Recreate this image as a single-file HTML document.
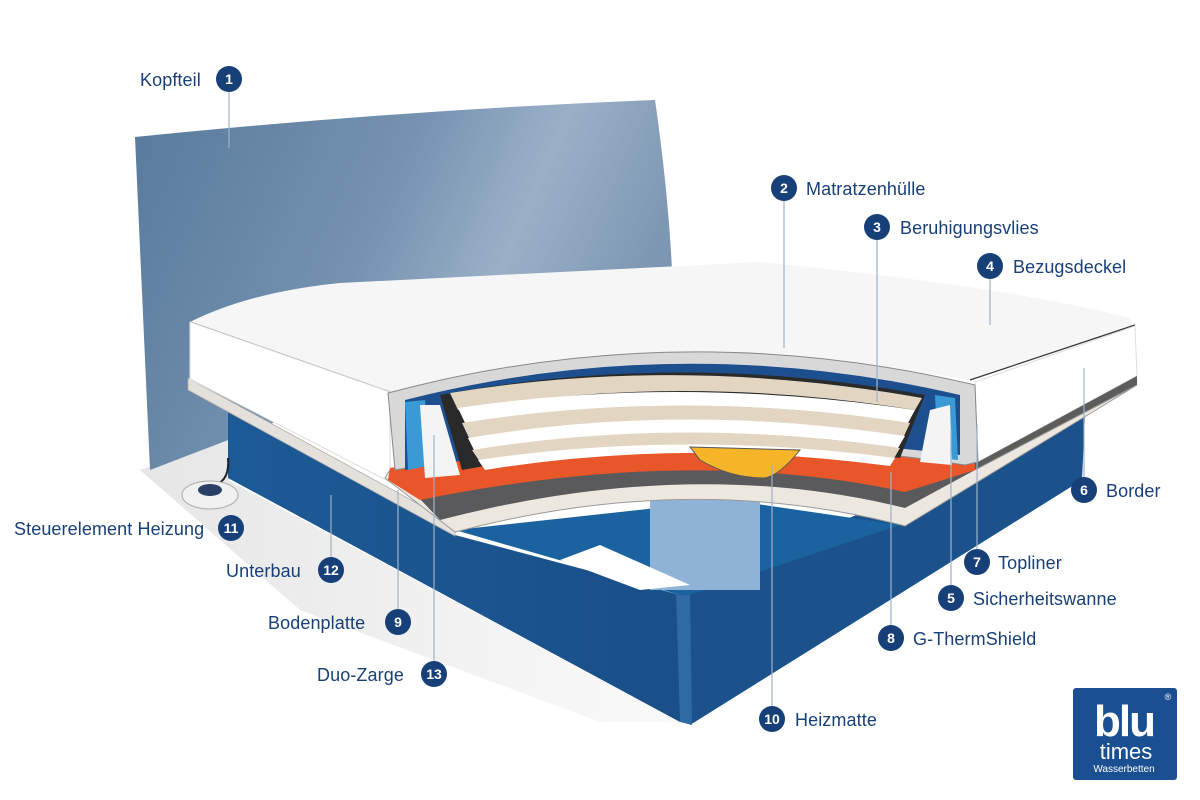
<!DOCTYPE html>
<html><head><meta charset="utf-8"><style>
html,body{margin:0;padding:0;background:#fff}
svg{display:block}
text{font-family:"Liberation Sans",sans-serif}
.lb{fill:#173f78;font-size:18px;letter-spacing:0.1px}
.cn{fill:#fff;font-size:14px;text-anchor:middle;font-weight:bold}
.ld{stroke:#9fb2c8;stroke-width:1.2;fill:none}
</style></head><body>
<svg width="1200" height="800" viewBox="0 0 1200 800" xmlns="http://www.w3.org/2000/svg">
<defs>
<linearGradient id="hb" x1="0" y1="0" x2="1" y2="0.3">
<stop offset="0" stop-color="#587a9c"/><stop offset="0.5" stop-color="#7592b0"/><stop offset="0.75" stop-color="#9ab0c7"/><stop offset="1" stop-color="#7d97b3"/></linearGradient>
<linearGradient id="fl" x1="0" y1="0" x2="1" y2="0">
<stop offset="0" stop-color="#e6e6e6"/><stop offset="1" stop-color="#fafafa"/></linearGradient>
<linearGradient id="bl" x1="0" y1="0" x2="1" y2="0">
<stop offset="0" stop-color="#1c5a96"/><stop offset="1" stop-color="#1a4f88"/></linearGradient>
</defs>
<polygon points="140,470 228,440 228,480 680,722 600,722 300,610" fill="url(#fl)"/>
<path d="M135,137 Q400,110 655,100 Q668,190 672,270 L150,470 Z" fill="url(#hb)"/>
<polygon points="228,405 455,535 680,595 680,722 228,478" fill="url(#bl)"/>
<polygon points="680,592 1085,415 1082,480 690,725" fill="#1b528c"/>
<polygon points="676,592 690,592 692,725 680,722" fill="#2f6aa3"/>
<polygon points="455,530 730,500 900,525 690,595 680,595" fill="#1a63a0"/>
<polygon points="650,500 760,500 760,590 650,590" fill="#8fb3d6"/>
<polygon points="560,560 600,545 690,585 640,590" fill="#ffffff"/>
<polygon points="188,378 455,524 455,536 188,390" fill="#e4e1dc" stroke="#aaa" stroke-width="0.8"/>
<path d="M190,322 Q250,292 340,283 L760,262 Q1000,285 1130,318 L1135,330 L970,380 Q680,330 390,392 Z" fill="#f6f6f6"/>
<path d="M190,322 L390,392 M970,380 L1135,325" stroke="#333" stroke-width="1.2" fill="none"/>
<path d="M190,322 L390,392 L390,482 L190,379 Z" fill="#ffffff" stroke="#ddd"/>
<path d="M975,382 L1135,326 L1137,376 L978,462 Z" fill="#ffffff" stroke="#ddd"/>
<polygon points="978,462 1137,376 1137,385 905,520 905,512" fill="#5c5c5c"/>
<path d="M385,478 L455,532 Q690,470 905,526 L1137,385 L975,470 Q680,430 390,470 Z" fill="#ece8e0" stroke="#999"/>
<path d="M400,478 Q660,430 975,470 L905,508 Q690,455 440,520 Z" fill="#5a5a5c"/>
<path d="M390,468 Q660,425 975,462 L975,470 L905,492 Q690,445 420,500 L388,480 Z" fill="#e9562a"/>
<path d="M388,393 Q680,315 975,385 L978,462 L965,465 Q680,420 395,470 Z" fill="#d8d8d8" stroke="#888"/>
<path d="M405,400 Q680,330 960,395 L960,455 Q680,420 405,470 Z" fill="#1d4f8e"/>
<path d="M405,402 L425,400 L432,465 L408,470 Z" fill="#3a9ad6"/>
<path d="M935,395 L955,398 L958,460 L938,458 Z" fill="#3a9ad6"/>
<path d="M420,405 L440,405 L460,475 L425,478 Z" fill="#f4f4f4"/>
<path d="M930,410 L950,405 L952,465 L920,462 Z" fill="#f4f4f4"/>
<path d="M440,395 Q680,350 925,395 L900,458 Q680,430 462,470 Z" fill="#2a2a2a"/>
<path d="M450,393 Q680,355 922,398 L915,410 Q680,372 458,410 Z" fill="#e2d6c2"/>
<path d="M458,408 Q680,375 915,410 L908,423 Q680,388 466,425 Z" fill="#ffffff"/>
<path d="M462,423 Q680,388 910,423 L904,436 Q680,402 470,440 Z" fill="#e2d6c2"/>
<path d="M468,438 Q680,402 905,436 L898,448 Q680,416 475,452 Z" fill="#ffffff"/>
<path d="M472,450 Q680,416 900,448 L893,460 Q680,430 480,462 Z" fill="#e2d6c2"/>
<path d="M478,460 Q680,430 895,458 L890,466 Q680,438 485,470 Z" fill="#ffffff"/>
<path d="M690,447 L800,450 Q780,475 765,478 Q730,478 700,460 Z" fill="#f6b429" stroke="#555"/>
<path d="M228,458 Q230,480 215,485" stroke="#222" stroke-width="2" fill="none"/>
<ellipse cx="210" cy="495" rx="28" ry="14" fill="#f1f1f1" stroke="#aaa"/>
<ellipse cx="210" cy="490" rx="12" ry="6" fill="#2a3f66"/>
<g class="ld">
<line x1="229" y1="92" x2="229" y2="148"/>
<line x1="784" y1="200" x2="784" y2="348"/>
<line x1="877" y1="240" x2="877" y2="402"/>
<line x1="990" y1="279" x2="990" y2="325"/>
<line x1="1084" y1="478" x2="1084" y2="368"/>
<line x1="977" y1="550" x2="977" y2="425"/>
<line x1="951" y1="586" x2="951" y2="430"/>
<line x1="891" y1="626" x2="891" y2="472"/>
<line x1="772" y1="707" x2="772" y2="465"/>
<line x1="331" y1="558" x2="331" y2="495"/>
<line x1="398" y1="610" x2="398" y2="490"/>
<line x1="434" y1="662" x2="434" y2="435"/>
</g>
<g>
<text class="lb" x="140" y="86">Kopfteil</text><circle cx="229" cy="79" r="13" fill="#173f78"/><text class="cn" x="229" y="84">1</text>
<circle cx="784" cy="188" r="13" fill="#173f78"/><text class="cn" x="784" y="193">2</text><text class="lb" x="806" y="195">Matratzenhülle</text>
<circle cx="877" cy="227" r="13" fill="#173f78"/><text class="cn" x="877" y="232">3</text><text class="lb" x="900" y="234">Beruhigungsvlies</text>
<circle cx="990" cy="266" r="13" fill="#173f78"/><text class="cn" x="990" y="271">4</text><text class="lb" x="1013" y="273">Bezugsdeckel</text>
<circle cx="1084" cy="490" r="13" fill="#173f78"/><text class="cn" x="1084" y="495">6</text><text class="lb" x="1106" y="497">Border</text>
<circle cx="977" cy="562" r="13" fill="#173f78"/><text class="cn" x="977" y="567">7</text><text class="lb" x="998" y="569">Topliner</text>
<circle cx="951" cy="598" r="13" fill="#173f78"/><text class="cn" x="951" y="603">5</text><text class="lb" x="973" y="605">Sicherheitswanne</text>
<circle cx="891" cy="638" r="13" fill="#173f78"/><text class="cn" x="891" y="643">8</text><text class="lb" x="913" y="645">G-ThermShield</text>
<circle cx="772" cy="719" r="13" fill="#173f78"/><text class="cn" x="772" y="724">10</text><text class="lb" x="795" y="726">Heizmatte</text>
<text class="lb" x="14" y="535">Steuerelement Heizung</text><circle cx="231" cy="528" r="13" fill="#173f78"/><text class="cn" x="231" y="533">11</text>
<text class="lb" x="226" y="577">Unterbau</text><circle cx="331" cy="570" r="13" fill="#173f78"/><text class="cn" x="331" y="575">12</text>
<text class="lb" x="268" y="629">Bodenplatte</text><circle cx="398" cy="622" r="13" fill="#173f78"/><text class="cn" x="398" y="627">9</text>
<text class="lb" x="317" y="681">Duo-Zarge</text><circle cx="434" cy="674" r="13" fill="#173f78"/><text class="cn" x="434" y="679">13</text>
</g>
<rect x="1073" y="688" width="104" height="92" rx="3" fill="#1a4f91"/>
<text x="1124" y="736" fill="#fff" font-size="44" font-weight="bold" text-anchor="middle" letter-spacing="-2">blu</text>
<text x="1126" y="759" fill="#fff" font-size="22" text-anchor="middle">times</text>
<text x="1124" y="772" fill="#fff" font-size="10" text-anchor="middle">Wasserbetten</text>
<text x="1168" y="700" fill="#fff" font-size="9" text-anchor="middle">®</text>
</svg>
</body></html>
